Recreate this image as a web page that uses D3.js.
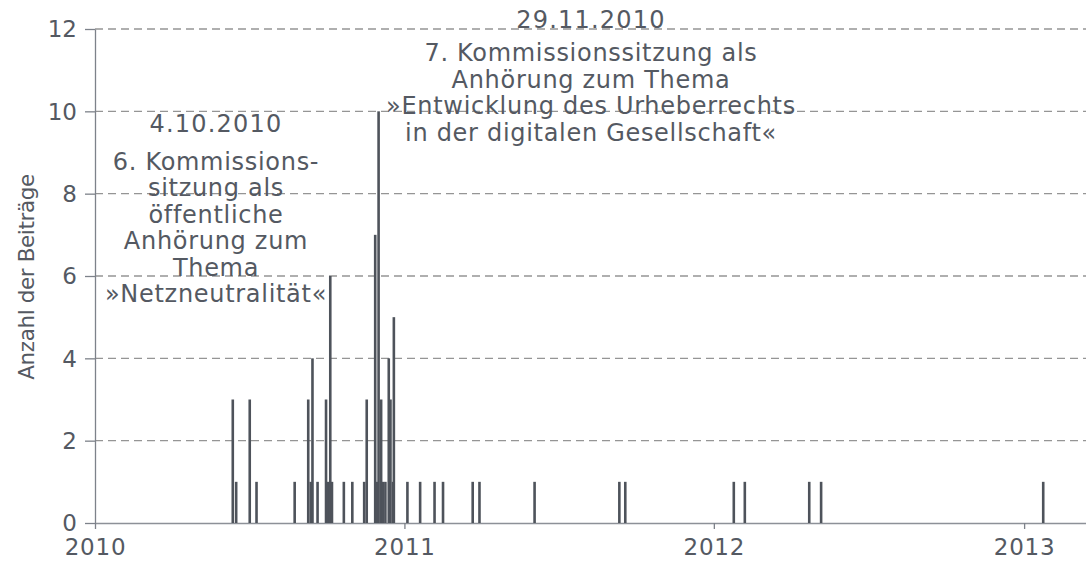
<!DOCTYPE html>
<html>
<head>
<meta charset="utf-8">
<script src="https://cdn.jsdelivr.net/npm/d3@7"></script>
<style>
  html, body { margin: 0; padding: 0; background: #ffffff; }
  svg { display: block; }
</style>
</head>
<body>
<svg id="chart" width="1086" height="562"></svg>
<script>
// ---- data ----
const dates = [
  "2010-06-11","2010-06-15","2010-07-01","2010-07-09","2010-08-23",
  "2010-09-08","2010-09-11","2010-09-13","2010-09-19","2010-09-29",
  "2010-10-01","2010-10-04","2010-10-06","2010-10-20","2010-10-30",
  "2010-11-13","2010-11-16","2010-11-26","2010-11-28","2010-11-30",
  "2010-12-03","2010-12-05","2010-12-08","2010-12-12","2010-12-14",
  "2010-12-17","2010-12-18",
  "2011-01-03","2011-01-18","2011-02-04","2011-02-14","2011-03-21",
  "2011-03-29","2011-06-02","2011-09-10","2011-09-17",
  "2012-01-23","2012-02-05","2012-04-21","2012-05-05",
  "2013-01-22"
];
const counts = [
  3,1,3,1,1,
  3,1,4,1,3,
  1,6,1,1,1,
  1,3,7,1,10,
  3,1,1,4,3,
  1,5,
  1,1,1,1,1,
  1,1,1,1,
  1,1,1,1,
  1
];
const yTicks = [0, 2, 4, 6, 8, 10, 12];
const xTickYears = ["2010", "2011", "2012", "2013"];
const yLabel = "Anzahl der Beiträge";
const annoLeftDate = "4.10.2010";
const annoLeftLines = ["6. Kommissions-", "sitzung als", "öffentliche", "Anhörung zum", "Thema", "»Netzneutralität«"];
const annoRightDate = "29.11.2010";
const annoRightLines = ["7. Kommissionssitzung als", "Anhörung zum Thema", "»Entwicklung des Urheberrechts", "in der digitalen Gesellschaft«"];

// ---- setup ----
const parse = d3.timeParse("%Y-%m-%d");
const data = dates.map((d, i) => ({ date: parse(d), value: counts[i] }));

const mLeft = 95, mRight = 1086, mTop = 29, mBottom = 523;
const textColor = "#545962";
const barColor = "#4e535b";
const font = "DejaVu Sans, Verdana, sans-serif";

const x = d3.scaleTime()
  .domain([parse("2010-01-01"), parse("2013-03-15")])
  .range([mLeft, mRight]);
const y = d3.scaleLinear().domain([0, 12]).range([mBottom, mTop]);

const svg = d3.select("#chart");

// grid
svg.append("g").selectAll("line")
  .data(yTicks.filter(t => t > 0))
  .join("line")
  .attr("x1", mLeft).attr("x2", mRight)
  .attr("y1", d => y(d)).attr("y2", d => y(d))
  .attr("stroke", "#959595").attr("stroke-width", 1.3)
  .attr("stroke-dasharray", "8,5");

// y axis
const yAxis = svg.append("g")
  .attr("transform", `translate(${mLeft},0)`)
  .call(d3.axisLeft(y).tickValues(yTicks).tickSize(10).tickPadding(8).tickSizeOuter(0));
yAxis.select(".domain").attr("stroke", "#7d828a").attr("stroke-width", 1.3);
yAxis.selectAll(".tick line").attr("stroke", "#7d828a").attr("stroke-width", 1.3);
yAxis.selectAll(".tick text")
  .attr("fill", textColor).style("font-family", font).style("font-size", "23px")
  .attr("dy", "0.34em");

// x axis
const xAxis = svg.append("g")
  .attr("transform", `translate(0,${mBottom})`)
  .call(d3.axisBottom(x)
    .tickValues(xTickYears.map(s => parse(s + "-01-01")))
    .tickFormat(d3.timeFormat("%Y"))
    .tickSize(6).tickPadding(10).tickSizeOuter(0));
xAxis.select(".domain").attr("stroke", "#8d9198").attr("stroke-width", 1.6);
xAxis.selectAll(".tick line").attr("stroke", "#7d828a").attr("stroke-width", 1.3);
xAxis.selectAll(".tick text")
  .attr("fill", textColor).style("font-family", font).style("font-size", "23px")
  .style("letter-spacing", "0.8px");

// bars
svg.append("g").selectAll("rect")
  .data(data)
  .join("rect")
  .attr("x", d => x(d.date))
  .attr("width", 2.6)
  .attr("y", d => y(d.value))
  .attr("height", d => y(0) - y(d.value))
  .attr("fill", barColor);

// y label
svg.append("text")
  .attr("transform", `translate(34,${277}) rotate(-90)`)
  .attr("text-anchor", "middle")
  .attr("fill", textColor)
  .style("font-family", font).style("font-size", "21.5px")
  .style("letter-spacing", "-0.4px")
  .text(yLabel);

// annotations
function annotate(cx, dateY, firstY, step, dateText, lines) {
  const g = svg.append("g")
    .attr("fill", textColor)
    .style("font-family", font)
    .style("font-size", "24px")
    .style("letter-spacing", "0.7px")
    .attr("text-anchor", "middle");
  g.append("text").attr("x", cx).attr("y", dateY)
    .style("letter-spacing", "1.2px").text(dateText);
  g.selectAll("text.l").data(lines).join("text")
    .attr("class", "l")
    .attr("x", cx)
    .attr("y", (d, i) => firstY + i * step)
    .text(d => d);
}
annotate(216, 132, 170, 26.4, annoLeftDate, annoLeftLines);
annotate(591, 28, 61, 26.7, annoRightDate, annoRightLines);
</script>
</body>
</html>
